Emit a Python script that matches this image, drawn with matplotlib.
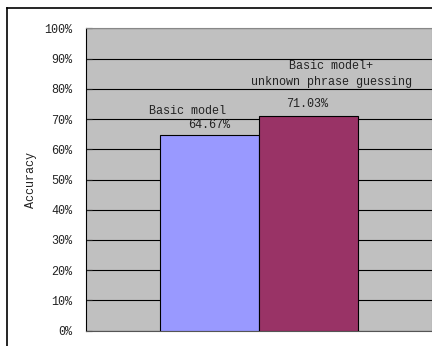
import matplotlib.pyplot as plt
from matplotlib.lines import Line2D
from matplotlib.ticker import PercentFormatter

models = ['Basic model', 'Basic model+\nunknown phrase guessing']
accuracy = [64.67, 71.03]
bar_colors = ['#9999FF', '#993366']
yticks = list(range(0, 101, 10))

plt.rcParams['font.family'] = ['Liberation Mono', 'DejaVu Sans Mono']
txt_color = '#222222'

fig = plt.figure(figsize=(4.32, 3.46), dpi=100)
ax = fig.add_axes([86 / 432, 15.3 / 346, 346 / 432, 302.4 / 346])
ax.set_facecolor('#C0C0C0')

ax.bar([0, 1], accuracy, width=1.0, color=bar_colors, edgecolor='black',
       linewidth=0.8, zorder=3)

ax.set_xlim(-1.247, 2.248)
ax.set_ylim(0, 100)
ax.set_yticks(yticks)
ax.yaxis.set_major_formatter(PercentFormatter(decimals=0))
ax.set_xticks([])
ax.tick_params(axis='y', direction='in', length=4, labelsize=8.5, pad=10,
               colors=txt_color)
ax.grid(axis='y', color='black', linewidth=0.8, zorder=1)
ax.set_ylabel('Accuracy', fontsize=8.5, labelpad=5, color=txt_color)

for side in ['top', 'right']:
    ax.spines[side].set_color('#888888')
ax.spines['left'].set_color('black')
ax.spines['bottom'].set_color('#555555')

# category name and value above each bar
ax.text(-0.22, accuracy[0] + 8.0, 'Basic model', ha='center', va='center',
        fontsize=8.5, color=txt_color)
ax.text(0.0, accuracy[0] + 3.3, f'{accuracy[0]:.2f}%', ha='center',
        va='center', fontsize=8.5, color=txt_color)
ax.text(1.23, accuracy[1] + 13.9, models[1], ha='center', va='center',
        fontsize=8.5, linespacing=1.5, color=txt_color)
ax.text(0.985, accuracy[1] + 4.0, f'{accuracy[1]:.2f}%', ha='center',
        va='center', fontsize=8.5, color=txt_color)

# outer chart frame
fig.add_artist(Line2D([7 / 432, 1.0], [1 - 8 / 346, 1 - 8 / 346],
                      color='black', linewidth=1.2))
fig.add_artist(Line2D([7 / 432, 7 / 432], [0, 1 - 8 / 346],
                      color='black', linewidth=1.2))

fig.savefig('out.png', dpi=100)
